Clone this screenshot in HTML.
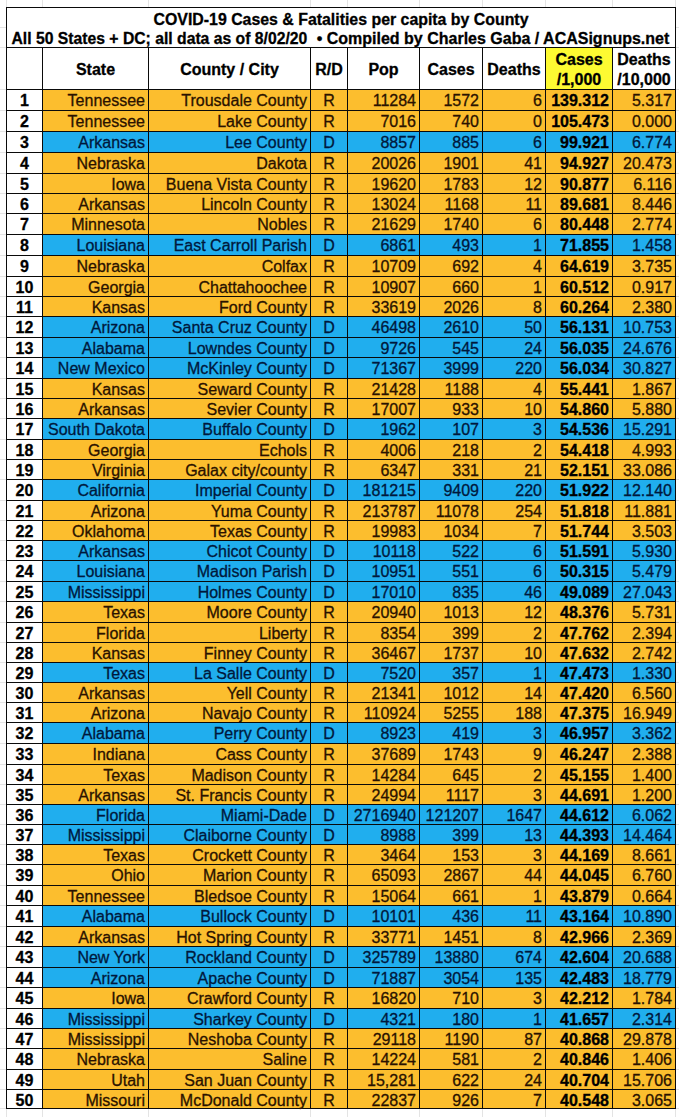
<!DOCTYPE html>
<html><head><meta charset="utf-8"><title>COVID-19 Cases &amp; Fatalities per capita by County</title>
<style>
html,body{margin:0;padding:0;background:#fff;}
body{width:679px;height:1117px;position:relative;overflow:hidden;font-family:"Liberation Sans",sans-serif;}
.r{position:absolute;}
.t{position:absolute;font-size:16px;-webkit-text-stroke:0.3px currentColor;white-space:nowrap;color:#111;height:20px;overflow:visible;}
.b{font-weight:bold;color:#000;}
</style></head><body>
<div class="r" style="left:6px;top:0px;width:1px;height:7px;background:#e4e4e4"></div>
<div class="r" style="left:6px;top:1109px;width:1px;height:8px;background:#e4e4e4"></div>
<div class="r" style="left:42px;top:0px;width:1px;height:7px;background:#e4e4e4"></div>
<div class="r" style="left:42px;top:1109px;width:1px;height:8px;background:#e4e4e4"></div>
<div class="r" style="left:148px;top:0px;width:1px;height:7px;background:#e4e4e4"></div>
<div class="r" style="left:148px;top:1109px;width:1px;height:8px;background:#e4e4e4"></div>
<div class="r" style="left:310px;top:0px;width:1px;height:7px;background:#e4e4e4"></div>
<div class="r" style="left:310px;top:1109px;width:1px;height:8px;background:#e4e4e4"></div>
<div class="r" style="left:347px;top:0px;width:1px;height:7px;background:#e4e4e4"></div>
<div class="r" style="left:347px;top:1109px;width:1px;height:8px;background:#e4e4e4"></div>
<div class="r" style="left:419px;top:0px;width:1px;height:7px;background:#e4e4e4"></div>
<div class="r" style="left:419px;top:1109px;width:1px;height:8px;background:#e4e4e4"></div>
<div class="r" style="left:482px;top:0px;width:1px;height:7px;background:#e4e4e4"></div>
<div class="r" style="left:482px;top:1109px;width:1px;height:8px;background:#e4e4e4"></div>
<div class="r" style="left:545px;top:0px;width:1px;height:7px;background:#e4e4e4"></div>
<div class="r" style="left:545px;top:1109px;width:1px;height:8px;background:#e4e4e4"></div>
<div class="r" style="left:612px;top:0px;width:1px;height:7px;background:#e4e4e4"></div>
<div class="r" style="left:612px;top:1109px;width:1px;height:8px;background:#e4e4e4"></div>
<div class="r" style="left:675px;top:0px;width:1px;height:7px;background:#e4e4e4"></div>
<div class="r" style="left:675px;top:1109px;width:1px;height:8px;background:#e4e4e4"></div>
<div class="r" style="left:0px;top:27px;width:6px;height:1px;background:#e4e4e4"></div>
<div class="r" style="left:676px;top:27px;width:3px;height:1px;background:#e4e4e4"></div>
<div class="r" style="left:0px;top:47px;width:6px;height:1px;background:#e4e4e4"></div>
<div class="r" style="left:676px;top:47px;width:3px;height:1px;background:#e4e4e4"></div>
<div class="r" style="left:0px;top:89px;width:6px;height:1px;background:#e4e4e4"></div>
<div class="r" style="left:676px;top:89px;width:3px;height:1px;background:#e4e4e4"></div>
<div class="r" style="left:0px;top:110px;width:6px;height:1px;background:#e4e4e4"></div>
<div class="r" style="left:676px;top:110px;width:3px;height:1px;background:#e4e4e4"></div>
<div class="r" style="left:0px;top:131px;width:6px;height:1px;background:#e4e4e4"></div>
<div class="r" style="left:676px;top:131px;width:3px;height:1px;background:#e4e4e4"></div>
<div class="r" style="left:0px;top:152px;width:6px;height:1px;background:#e4e4e4"></div>
<div class="r" style="left:676px;top:152px;width:3px;height:1px;background:#e4e4e4"></div>
<div class="r" style="left:0px;top:173px;width:6px;height:1px;background:#e4e4e4"></div>
<div class="r" style="left:676px;top:173px;width:3px;height:1px;background:#e4e4e4"></div>
<div class="r" style="left:0px;top:193px;width:6px;height:1px;background:#e4e4e4"></div>
<div class="r" style="left:676px;top:193px;width:3px;height:1px;background:#e4e4e4"></div>
<div class="r" style="left:0px;top:213px;width:6px;height:1px;background:#e4e4e4"></div>
<div class="r" style="left:676px;top:213px;width:3px;height:1px;background:#e4e4e4"></div>
<div class="r" style="left:0px;top:234px;width:6px;height:1px;background:#e4e4e4"></div>
<div class="r" style="left:676px;top:234px;width:3px;height:1px;background:#e4e4e4"></div>
<div class="r" style="left:0px;top:255px;width:6px;height:1px;background:#e4e4e4"></div>
<div class="r" style="left:676px;top:255px;width:3px;height:1px;background:#e4e4e4"></div>
<div class="r" style="left:0px;top:276px;width:6px;height:1px;background:#e4e4e4"></div>
<div class="r" style="left:676px;top:276px;width:3px;height:1px;background:#e4e4e4"></div>
<div class="r" style="left:0px;top:296px;width:6px;height:1px;background:#e4e4e4"></div>
<div class="r" style="left:676px;top:296px;width:3px;height:1px;background:#e4e4e4"></div>
<div class="r" style="left:0px;top:316px;width:6px;height:1px;background:#e4e4e4"></div>
<div class="r" style="left:676px;top:316px;width:3px;height:1px;background:#e4e4e4"></div>
<div class="r" style="left:0px;top:337px;width:6px;height:1px;background:#e4e4e4"></div>
<div class="r" style="left:676px;top:337px;width:3px;height:1px;background:#e4e4e4"></div>
<div class="r" style="left:0px;top:357px;width:6px;height:1px;background:#e4e4e4"></div>
<div class="r" style="left:676px;top:357px;width:3px;height:1px;background:#e4e4e4"></div>
<div class="r" style="left:0px;top:378px;width:6px;height:1px;background:#e4e4e4"></div>
<div class="r" style="left:676px;top:378px;width:3px;height:1px;background:#e4e4e4"></div>
<div class="r" style="left:0px;top:398px;width:6px;height:1px;background:#e4e4e4"></div>
<div class="r" style="left:676px;top:398px;width:3px;height:1px;background:#e4e4e4"></div>
<div class="r" style="left:0px;top:418px;width:6px;height:1px;background:#e4e4e4"></div>
<div class="r" style="left:676px;top:418px;width:3px;height:1px;background:#e4e4e4"></div>
<div class="r" style="left:0px;top:439px;width:6px;height:1px;background:#e4e4e4"></div>
<div class="r" style="left:676px;top:439px;width:3px;height:1px;background:#e4e4e4"></div>
<div class="r" style="left:0px;top:459px;width:6px;height:1px;background:#e4e4e4"></div>
<div class="r" style="left:676px;top:459px;width:3px;height:1px;background:#e4e4e4"></div>
<div class="r" style="left:0px;top:479px;width:6px;height:1px;background:#e4e4e4"></div>
<div class="r" style="left:676px;top:479px;width:3px;height:1px;background:#e4e4e4"></div>
<div class="r" style="left:0px;top:500px;width:6px;height:1px;background:#e4e4e4"></div>
<div class="r" style="left:676px;top:500px;width:3px;height:1px;background:#e4e4e4"></div>
<div class="r" style="left:0px;top:520px;width:6px;height:1px;background:#e4e4e4"></div>
<div class="r" style="left:676px;top:520px;width:3px;height:1px;background:#e4e4e4"></div>
<div class="r" style="left:0px;top:540px;width:6px;height:1px;background:#e4e4e4"></div>
<div class="r" style="left:676px;top:540px;width:3px;height:1px;background:#e4e4e4"></div>
<div class="r" style="left:0px;top:560px;width:6px;height:1px;background:#e4e4e4"></div>
<div class="r" style="left:676px;top:560px;width:3px;height:1px;background:#e4e4e4"></div>
<div class="r" style="left:0px;top:581px;width:6px;height:1px;background:#e4e4e4"></div>
<div class="r" style="left:676px;top:581px;width:3px;height:1px;background:#e4e4e4"></div>
<div class="r" style="left:0px;top:601px;width:6px;height:1px;background:#e4e4e4"></div>
<div class="r" style="left:676px;top:601px;width:3px;height:1px;background:#e4e4e4"></div>
<div class="r" style="left:0px;top:622px;width:6px;height:1px;background:#e4e4e4"></div>
<div class="r" style="left:676px;top:622px;width:3px;height:1px;background:#e4e4e4"></div>
<div class="r" style="left:0px;top:642px;width:6px;height:1px;background:#e4e4e4"></div>
<div class="r" style="left:676px;top:642px;width:3px;height:1px;background:#e4e4e4"></div>
<div class="r" style="left:0px;top:662px;width:6px;height:1px;background:#e4e4e4"></div>
<div class="r" style="left:676px;top:662px;width:3px;height:1px;background:#e4e4e4"></div>
<div class="r" style="left:0px;top:682px;width:6px;height:1px;background:#e4e4e4"></div>
<div class="r" style="left:676px;top:682px;width:3px;height:1px;background:#e4e4e4"></div>
<div class="r" style="left:0px;top:702px;width:6px;height:1px;background:#e4e4e4"></div>
<div class="r" style="left:676px;top:702px;width:3px;height:1px;background:#e4e4e4"></div>
<div class="r" style="left:0px;top:722px;width:6px;height:1px;background:#e4e4e4"></div>
<div class="r" style="left:676px;top:722px;width:3px;height:1px;background:#e4e4e4"></div>
<div class="r" style="left:0px;top:743px;width:6px;height:1px;background:#e4e4e4"></div>
<div class="r" style="left:676px;top:743px;width:3px;height:1px;background:#e4e4e4"></div>
<div class="r" style="left:0px;top:764px;width:6px;height:1px;background:#e4e4e4"></div>
<div class="r" style="left:676px;top:764px;width:3px;height:1px;background:#e4e4e4"></div>
<div class="r" style="left:0px;top:784px;width:6px;height:1px;background:#e4e4e4"></div>
<div class="r" style="left:676px;top:784px;width:3px;height:1px;background:#e4e4e4"></div>
<div class="r" style="left:0px;top:804px;width:6px;height:1px;background:#e4e4e4"></div>
<div class="r" style="left:676px;top:804px;width:3px;height:1px;background:#e4e4e4"></div>
<div class="r" style="left:0px;top:824px;width:6px;height:1px;background:#e4e4e4"></div>
<div class="r" style="left:676px;top:824px;width:3px;height:1px;background:#e4e4e4"></div>
<div class="r" style="left:0px;top:844px;width:6px;height:1px;background:#e4e4e4"></div>
<div class="r" style="left:676px;top:844px;width:3px;height:1px;background:#e4e4e4"></div>
<div class="r" style="left:0px;top:864px;width:6px;height:1px;background:#e4e4e4"></div>
<div class="r" style="left:676px;top:864px;width:3px;height:1px;background:#e4e4e4"></div>
<div class="r" style="left:0px;top:885px;width:6px;height:1px;background:#e4e4e4"></div>
<div class="r" style="left:676px;top:885px;width:3px;height:1px;background:#e4e4e4"></div>
<div class="r" style="left:0px;top:905px;width:6px;height:1px;background:#e4e4e4"></div>
<div class="r" style="left:676px;top:905px;width:3px;height:1px;background:#e4e4e4"></div>
<div class="r" style="left:0px;top:926px;width:6px;height:1px;background:#e4e4e4"></div>
<div class="r" style="left:676px;top:926px;width:3px;height:1px;background:#e4e4e4"></div>
<div class="r" style="left:0px;top:946px;width:6px;height:1px;background:#e4e4e4"></div>
<div class="r" style="left:676px;top:946px;width:3px;height:1px;background:#e4e4e4"></div>
<div class="r" style="left:0px;top:967px;width:6px;height:1px;background:#e4e4e4"></div>
<div class="r" style="left:676px;top:967px;width:3px;height:1px;background:#e4e4e4"></div>
<div class="r" style="left:0px;top:987px;width:6px;height:1px;background:#e4e4e4"></div>
<div class="r" style="left:676px;top:987px;width:3px;height:1px;background:#e4e4e4"></div>
<div class="r" style="left:0px;top:1008px;width:6px;height:1px;background:#e4e4e4"></div>
<div class="r" style="left:676px;top:1008px;width:3px;height:1px;background:#e4e4e4"></div>
<div class="r" style="left:0px;top:1028px;width:6px;height:1px;background:#e4e4e4"></div>
<div class="r" style="left:676px;top:1028px;width:3px;height:1px;background:#e4e4e4"></div>
<div class="r" style="left:0px;top:1048px;width:6px;height:1px;background:#e4e4e4"></div>
<div class="r" style="left:676px;top:1048px;width:3px;height:1px;background:#e4e4e4"></div>
<div class="r" style="left:0px;top:1069px;width:6px;height:1px;background:#e4e4e4"></div>
<div class="r" style="left:676px;top:1069px;width:3px;height:1px;background:#e4e4e4"></div>
<div class="r" style="left:0px;top:1089px;width:6px;height:1px;background:#e4e4e4"></div>
<div class="r" style="left:676px;top:1089px;width:3px;height:1px;background:#e4e4e4"></div>
<div class="r" style="left:0px;top:1108px;width:6px;height:1px;background:#e4e4e4"></div>
<div class="r" style="left:676px;top:1108px;width:3px;height:1px;background:#e4e4e4"></div>
<div class="r" style="left:0px;top:7px;width:679px;height:0px;background:#e4e4e4"></div>
<div class="r" style="left:546px;top:48px;width:66px;height:41px;background:#fdfa32"></div>
<div class="r" style="left:43px;top:90px;width:632px;height:20px;background:#fcbe2e"></div>
<div class="r" style="left:43px;top:111px;width:632px;height:20px;background:#fcbe2e"></div>
<div class="r" style="left:43px;top:132px;width:632px;height:20px;background:#20aeee"></div>
<div class="r" style="left:43px;top:153px;width:632px;height:20px;background:#fcbe2e"></div>
<div class="r" style="left:43px;top:174px;width:632px;height:19px;background:#fcbe2e"></div>
<div class="r" style="left:43px;top:194px;width:632px;height:19px;background:#fcbe2e"></div>
<div class="r" style="left:43px;top:214px;width:632px;height:20px;background:#fcbe2e"></div>
<div class="r" style="left:43px;top:235px;width:632px;height:20px;background:#20aeee"></div>
<div class="r" style="left:43px;top:256px;width:632px;height:20px;background:#fcbe2e"></div>
<div class="r" style="left:43px;top:277px;width:632px;height:19px;background:#fcbe2e"></div>
<div class="r" style="left:43px;top:297px;width:632px;height:19px;background:#fcbe2e"></div>
<div class="r" style="left:43px;top:317px;width:632px;height:20px;background:#20aeee"></div>
<div class="r" style="left:43px;top:338px;width:632px;height:19px;background:#20aeee"></div>
<div class="r" style="left:43px;top:358px;width:632px;height:20px;background:#20aeee"></div>
<div class="r" style="left:43px;top:379px;width:632px;height:19px;background:#fcbe2e"></div>
<div class="r" style="left:43px;top:399px;width:632px;height:19px;background:#fcbe2e"></div>
<div class="r" style="left:43px;top:419px;width:632px;height:20px;background:#20aeee"></div>
<div class="r" style="left:43px;top:440px;width:632px;height:19px;background:#fcbe2e"></div>
<div class="r" style="left:43px;top:460px;width:632px;height:19px;background:#fcbe2e"></div>
<div class="r" style="left:43px;top:480px;width:632px;height:20px;background:#20aeee"></div>
<div class="r" style="left:43px;top:501px;width:632px;height:19px;background:#fcbe2e"></div>
<div class="r" style="left:43px;top:521px;width:632px;height:19px;background:#fcbe2e"></div>
<div class="r" style="left:43px;top:541px;width:632px;height:19px;background:#20aeee"></div>
<div class="r" style="left:43px;top:561px;width:632px;height:20px;background:#20aeee"></div>
<div class="r" style="left:43px;top:582px;width:632px;height:19px;background:#20aeee"></div>
<div class="r" style="left:43px;top:602px;width:632px;height:20px;background:#fcbe2e"></div>
<div class="r" style="left:43px;top:623px;width:632px;height:19px;background:#fcbe2e"></div>
<div class="r" style="left:43px;top:643px;width:632px;height:19px;background:#fcbe2e"></div>
<div class="r" style="left:43px;top:663px;width:632px;height:19px;background:#20aeee"></div>
<div class="r" style="left:43px;top:683px;width:632px;height:19px;background:#fcbe2e"></div>
<div class="r" style="left:43px;top:703px;width:632px;height:19px;background:#fcbe2e"></div>
<div class="r" style="left:43px;top:723px;width:632px;height:20px;background:#20aeee"></div>
<div class="r" style="left:43px;top:744px;width:632px;height:20px;background:#fcbe2e"></div>
<div class="r" style="left:43px;top:765px;width:632px;height:19px;background:#fcbe2e"></div>
<div class="r" style="left:43px;top:785px;width:632px;height:19px;background:#fcbe2e"></div>
<div class="r" style="left:43px;top:805px;width:632px;height:19px;background:#20aeee"></div>
<div class="r" style="left:43px;top:825px;width:632px;height:19px;background:#20aeee"></div>
<div class="r" style="left:43px;top:845px;width:632px;height:19px;background:#fcbe2e"></div>
<div class="r" style="left:43px;top:865px;width:632px;height:20px;background:#fcbe2e"></div>
<div class="r" style="left:43px;top:886px;width:632px;height:19px;background:#fcbe2e"></div>
<div class="r" style="left:43px;top:906px;width:632px;height:20px;background:#20aeee"></div>
<div class="r" style="left:43px;top:927px;width:632px;height:19px;background:#fcbe2e"></div>
<div class="r" style="left:43px;top:947px;width:632px;height:20px;background:#20aeee"></div>
<div class="r" style="left:43px;top:968px;width:632px;height:19px;background:#20aeee"></div>
<div class="r" style="left:43px;top:988px;width:632px;height:20px;background:#fcbe2e"></div>
<div class="r" style="left:43px;top:1009px;width:632px;height:19px;background:#20aeee"></div>
<div class="r" style="left:43px;top:1029px;width:632px;height:19px;background:#fcbe2e"></div>
<div class="r" style="left:43px;top:1049px;width:632px;height:20px;background:#fcbe2e"></div>
<div class="r" style="left:43px;top:1070px;width:632px;height:19px;background:#fcbe2e"></div>
<div class="r" style="left:43px;top:1090px;width:632px;height:18px;background:#fcbe2e"></div>
<div class="r" style="left:6px;top:7px;width:670px;height:1px;background:#0a0a0a"></div>
<div class="r" style="left:6px;top:7px;width:1px;height:1102px;background:#0a0a0a"></div>
<div class="r" style="left:675px;top:7px;width:1px;height:1102px;background:#0a0a0a"></div>
<div class="r" style="left:6px;top:47px;width:670px;height:1px;background:#0a0a0a"></div>
<div class="r" style="left:6px;top:89px;width:670px;height:1px;background:#0a0a0a"></div>
<div class="r" style="left:6px;top:110px;width:670px;height:1px;background:#0a0a0a"></div>
<div class="r" style="left:6px;top:131px;width:670px;height:1px;background:#0a0a0a"></div>
<div class="r" style="left:6px;top:152px;width:670px;height:1px;background:#0a0a0a"></div>
<div class="r" style="left:6px;top:173px;width:670px;height:1px;background:#0a0a0a"></div>
<div class="r" style="left:6px;top:193px;width:670px;height:1px;background:#0a0a0a"></div>
<div class="r" style="left:6px;top:213px;width:670px;height:1px;background:#0a0a0a"></div>
<div class="r" style="left:6px;top:234px;width:670px;height:1px;background:#0a0a0a"></div>
<div class="r" style="left:6px;top:255px;width:670px;height:1px;background:#0a0a0a"></div>
<div class="r" style="left:6px;top:276px;width:670px;height:1px;background:#0a0a0a"></div>
<div class="r" style="left:6px;top:296px;width:670px;height:1px;background:#0a0a0a"></div>
<div class="r" style="left:6px;top:316px;width:670px;height:1px;background:#0a0a0a"></div>
<div class="r" style="left:6px;top:337px;width:670px;height:1px;background:#0a0a0a"></div>
<div class="r" style="left:6px;top:357px;width:670px;height:1px;background:#0a0a0a"></div>
<div class="r" style="left:6px;top:378px;width:670px;height:1px;background:#0a0a0a"></div>
<div class="r" style="left:6px;top:398px;width:670px;height:1px;background:#0a0a0a"></div>
<div class="r" style="left:6px;top:418px;width:670px;height:1px;background:#0a0a0a"></div>
<div class="r" style="left:6px;top:439px;width:670px;height:1px;background:#0a0a0a"></div>
<div class="r" style="left:6px;top:459px;width:670px;height:1px;background:#0a0a0a"></div>
<div class="r" style="left:6px;top:479px;width:670px;height:1px;background:#0a0a0a"></div>
<div class="r" style="left:6px;top:500px;width:670px;height:1px;background:#0a0a0a"></div>
<div class="r" style="left:6px;top:520px;width:670px;height:1px;background:#0a0a0a"></div>
<div class="r" style="left:6px;top:540px;width:670px;height:1px;background:#0a0a0a"></div>
<div class="r" style="left:6px;top:560px;width:670px;height:1px;background:#0a0a0a"></div>
<div class="r" style="left:6px;top:581px;width:670px;height:1px;background:#0a0a0a"></div>
<div class="r" style="left:6px;top:601px;width:670px;height:1px;background:#0a0a0a"></div>
<div class="r" style="left:6px;top:622px;width:670px;height:1px;background:#0a0a0a"></div>
<div class="r" style="left:6px;top:642px;width:670px;height:1px;background:#0a0a0a"></div>
<div class="r" style="left:6px;top:662px;width:670px;height:1px;background:#0a0a0a"></div>
<div class="r" style="left:6px;top:682px;width:670px;height:1px;background:#0a0a0a"></div>
<div class="r" style="left:6px;top:702px;width:670px;height:1px;background:#0a0a0a"></div>
<div class="r" style="left:6px;top:722px;width:670px;height:1px;background:#0a0a0a"></div>
<div class="r" style="left:6px;top:743px;width:670px;height:1px;background:#0a0a0a"></div>
<div class="r" style="left:6px;top:764px;width:670px;height:1px;background:#0a0a0a"></div>
<div class="r" style="left:6px;top:784px;width:670px;height:1px;background:#0a0a0a"></div>
<div class="r" style="left:6px;top:804px;width:670px;height:1px;background:#0a0a0a"></div>
<div class="r" style="left:6px;top:824px;width:670px;height:1px;background:#0a0a0a"></div>
<div class="r" style="left:6px;top:844px;width:670px;height:1px;background:#0a0a0a"></div>
<div class="r" style="left:6px;top:864px;width:670px;height:1px;background:#0a0a0a"></div>
<div class="r" style="left:6px;top:885px;width:670px;height:1px;background:#0a0a0a"></div>
<div class="r" style="left:6px;top:905px;width:670px;height:1px;background:#0a0a0a"></div>
<div class="r" style="left:6px;top:926px;width:670px;height:1px;background:#0a0a0a"></div>
<div class="r" style="left:6px;top:946px;width:670px;height:1px;background:#0a0a0a"></div>
<div class="r" style="left:6px;top:967px;width:670px;height:1px;background:#0a0a0a"></div>
<div class="r" style="left:6px;top:987px;width:670px;height:1px;background:#0a0a0a"></div>
<div class="r" style="left:6px;top:1008px;width:670px;height:1px;background:#0a0a0a"></div>
<div class="r" style="left:6px;top:1028px;width:670px;height:1px;background:#0a0a0a"></div>
<div class="r" style="left:6px;top:1048px;width:670px;height:1px;background:#0a0a0a"></div>
<div class="r" style="left:6px;top:1069px;width:670px;height:1px;background:#0a0a0a"></div>
<div class="r" style="left:6px;top:1089px;width:670px;height:1px;background:#0a0a0a"></div>
<div class="r" style="left:6px;top:1108px;width:670px;height:1px;background:#0a0a0a"></div>
<div class="r" style="left:42px;top:47px;width:1px;height:1062px;background:#0a0a0a"></div>
<div class="r" style="left:148px;top:47px;width:1px;height:1062px;background:#0a0a0a"></div>
<div class="r" style="left:310px;top:47px;width:1px;height:1062px;background:#0a0a0a"></div>
<div class="r" style="left:347px;top:47px;width:1px;height:1062px;background:#0a0a0a"></div>
<div class="r" style="left:419px;top:47px;width:1px;height:1062px;background:#0a0a0a"></div>
<div class="r" style="left:482px;top:47px;width:1px;height:1062px;background:#0a0a0a"></div>
<div class="r" style="left:545px;top:47px;width:1px;height:1062px;background:#0a0a0a"></div>
<div class="r" style="left:612px;top:47px;width:1px;height:1062px;background:#0a0a0a"></div>
<div class="t b" style="left:7px;top:10px;width:668px;line-height:20px;text-align:center;font-size:15.88px">COVID-19 Cases &amp; Fatalities per capita by County</div>
<div class="t b" style="left:11.5px;top:29px;line-height:20px;font-size:15.72px">All 50 States + DC; all data as of 8/02/20</div>
<div class="t b" style="left:316.7px;top:29px;line-height:20px;font-size:16px">• Compiled by Charles Gaba / ACASignups.net</div>
<div class="t b" style="left:43px;top:60px;width:105px;line-height:20px;text-align:center">State</div>
<div class="t b" style="left:149px;top:60px;width:161px;line-height:20px;text-align:center">County / City</div>
<div class="t b" style="left:311px;top:60px;width:36px;line-height:20px;text-align:center">R/D</div>
<div class="t b" style="left:348px;top:60px;width:71px;line-height:20px;text-align:center">Pop</div>
<div class="t b" style="left:420px;top:60px;width:62px;line-height:20px;text-align:center">Cases</div>
<div class="t b" style="left:483px;top:60px;width:62px;line-height:20px;text-align:center">Deaths</div>
<div class="t b" style="left:546px;top:50px;width:66px;line-height:20px;text-align:center">Cases</div>
<div class="t b" style="left:546px;top:70px;width:66px;line-height:20px;text-align:center">/1,000</div>
<div class="t b" style="left:613px;top:50px;width:62px;line-height:20px;text-align:center">Deaths</div>
<div class="t b" style="left:613px;top:70px;width:62px;line-height:20px;text-align:center">/10,000</div>
<div class="t b" style="left:7px;top:91px;width:35px;line-height:20px;text-align:center">1</div>
<div class="t" style="left:43px;top:91px;width:102px;line-height:20px;text-align:right;color:#2a1200">Tennessee</div>
<div class="t" style="left:149px;top:91px;width:158px;line-height:20px;text-align:right;color:#2a1200">Trousdale County</div>
<div class="t" style="left:311px;top:91px;width:36px;line-height:20px;text-align:center;color:#2a1200">R</div>
<div class="t" style="left:348px;top:91px;width:68px;line-height:20px;text-align:right;color:#2a1200">11284</div>
<div class="t" style="left:420px;top:91px;width:59px;line-height:20px;text-align:right;color:#2a1200">1572</div>
<div class="t" style="left:483px;top:91px;width:59px;line-height:20px;text-align:right;color:#2a1200">6</div>
<div class="t b" style="left:546px;top:91px;width:63px;line-height:20px;text-align:right;color:#000">139.312</div>
<div class="t" style="left:613px;top:91px;width:59px;line-height:20px;text-align:right;color:#2a1200">5.317</div>
<div class="t b" style="left:7px;top:112px;width:35px;line-height:20px;text-align:center">2</div>
<div class="t" style="left:43px;top:112px;width:102px;line-height:20px;text-align:right;color:#2a1200">Tennessee</div>
<div class="t" style="left:149px;top:112px;width:158px;line-height:20px;text-align:right;color:#2a1200">Lake County</div>
<div class="t" style="left:311px;top:112px;width:36px;line-height:20px;text-align:center;color:#2a1200">R</div>
<div class="t" style="left:348px;top:112px;width:68px;line-height:20px;text-align:right;color:#2a1200">7016</div>
<div class="t" style="left:420px;top:112px;width:59px;line-height:20px;text-align:right;color:#2a1200">740</div>
<div class="t" style="left:483px;top:112px;width:59px;line-height:20px;text-align:right;color:#2a1200">0</div>
<div class="t b" style="left:546px;top:112px;width:63px;line-height:20px;text-align:right;color:#000">105.473</div>
<div class="t" style="left:613px;top:112px;width:59px;line-height:20px;text-align:right;color:#2a1200">0.000</div>
<div class="t b" style="left:7px;top:133px;width:35px;line-height:20px;text-align:center">3</div>
<div class="t" style="left:43px;top:133px;width:102px;line-height:20px;text-align:right;color:#00183c">Arkansas</div>
<div class="t" style="left:149px;top:133px;width:158px;line-height:20px;text-align:right;color:#00183c">Lee County</div>
<div class="t" style="left:311px;top:133px;width:36px;line-height:20px;text-align:center;color:#00183c">D</div>
<div class="t" style="left:348px;top:133px;width:68px;line-height:20px;text-align:right;color:#00183c">8857</div>
<div class="t" style="left:420px;top:133px;width:59px;line-height:20px;text-align:right;color:#00183c">885</div>
<div class="t" style="left:483px;top:133px;width:59px;line-height:20px;text-align:right;color:#00183c">6</div>
<div class="t b" style="left:546px;top:133px;width:63px;line-height:20px;text-align:right;color:#000">99.921</div>
<div class="t" style="left:613px;top:133px;width:59px;line-height:20px;text-align:right;color:#00183c">6.774</div>
<div class="t b" style="left:7px;top:154px;width:35px;line-height:20px;text-align:center">4</div>
<div class="t" style="left:43px;top:154px;width:102px;line-height:20px;text-align:right;color:#2a1200">Nebraska</div>
<div class="t" style="left:149px;top:154px;width:158px;line-height:20px;text-align:right;color:#2a1200">Dakota</div>
<div class="t" style="left:311px;top:154px;width:36px;line-height:20px;text-align:center;color:#2a1200">R</div>
<div class="t" style="left:348px;top:154px;width:68px;line-height:20px;text-align:right;color:#2a1200">20026</div>
<div class="t" style="left:420px;top:154px;width:59px;line-height:20px;text-align:right;color:#2a1200">1901</div>
<div class="t" style="left:483px;top:154px;width:59px;line-height:20px;text-align:right;color:#2a1200">41</div>
<div class="t b" style="left:546px;top:154px;width:63px;line-height:20px;text-align:right;color:#000">94.927</div>
<div class="t" style="left:613px;top:154px;width:59px;line-height:20px;text-align:right;color:#2a1200">20.473</div>
<div class="t b" style="left:7px;top:175px;width:35px;line-height:20px;text-align:center">5</div>
<div class="t" style="left:43px;top:175px;width:102px;line-height:20px;text-align:right;color:#2a1200">Iowa</div>
<div class="t" style="left:149px;top:175px;width:158px;line-height:20px;text-align:right;color:#2a1200">Buena Vista County</div>
<div class="t" style="left:311px;top:175px;width:36px;line-height:20px;text-align:center;color:#2a1200">R</div>
<div class="t" style="left:348px;top:175px;width:68px;line-height:20px;text-align:right;color:#2a1200">19620</div>
<div class="t" style="left:420px;top:175px;width:59px;line-height:20px;text-align:right;color:#2a1200">1783</div>
<div class="t" style="left:483px;top:175px;width:59px;line-height:20px;text-align:right;color:#2a1200">12</div>
<div class="t b" style="left:546px;top:175px;width:63px;line-height:20px;text-align:right;color:#000">90.877</div>
<div class="t" style="left:613px;top:175px;width:59px;line-height:20px;text-align:right;color:#2a1200">6.116</div>
<div class="t b" style="left:7px;top:195px;width:35px;line-height:20px;text-align:center">6</div>
<div class="t" style="left:43px;top:195px;width:102px;line-height:20px;text-align:right;color:#2a1200">Arkansas</div>
<div class="t" style="left:149px;top:195px;width:158px;line-height:20px;text-align:right;color:#2a1200">Lincoln County</div>
<div class="t" style="left:311px;top:195px;width:36px;line-height:20px;text-align:center;color:#2a1200">R</div>
<div class="t" style="left:348px;top:195px;width:68px;line-height:20px;text-align:right;color:#2a1200">13024</div>
<div class="t" style="left:420px;top:195px;width:59px;line-height:20px;text-align:right;color:#2a1200">1168</div>
<div class="t" style="left:483px;top:195px;width:59px;line-height:20px;text-align:right;color:#2a1200">11</div>
<div class="t b" style="left:546px;top:195px;width:63px;line-height:20px;text-align:right;color:#000">89.681</div>
<div class="t" style="left:613px;top:195px;width:59px;line-height:20px;text-align:right;color:#2a1200">8.446</div>
<div class="t b" style="left:7px;top:215px;width:35px;line-height:20px;text-align:center">7</div>
<div class="t" style="left:43px;top:215px;width:102px;line-height:20px;text-align:right;color:#2a1200">Minnesota</div>
<div class="t" style="left:149px;top:215px;width:158px;line-height:20px;text-align:right;color:#2a1200">Nobles</div>
<div class="t" style="left:311px;top:215px;width:36px;line-height:20px;text-align:center;color:#2a1200">R</div>
<div class="t" style="left:348px;top:215px;width:68px;line-height:20px;text-align:right;color:#2a1200">21629</div>
<div class="t" style="left:420px;top:215px;width:59px;line-height:20px;text-align:right;color:#2a1200">1740</div>
<div class="t" style="left:483px;top:215px;width:59px;line-height:20px;text-align:right;color:#2a1200">6</div>
<div class="t b" style="left:546px;top:215px;width:63px;line-height:20px;text-align:right;color:#000">80.448</div>
<div class="t" style="left:613px;top:215px;width:59px;line-height:20px;text-align:right;color:#2a1200">2.774</div>
<div class="t b" style="left:7px;top:236px;width:35px;line-height:20px;text-align:center">8</div>
<div class="t" style="left:43px;top:236px;width:102px;line-height:20px;text-align:right;color:#00183c">Louisiana</div>
<div class="t" style="left:149px;top:236px;width:158px;line-height:20px;text-align:right;color:#00183c">East Carroll Parish</div>
<div class="t" style="left:311px;top:236px;width:36px;line-height:20px;text-align:center;color:#00183c">D</div>
<div class="t" style="left:348px;top:236px;width:68px;line-height:20px;text-align:right;color:#00183c">6861</div>
<div class="t" style="left:420px;top:236px;width:59px;line-height:20px;text-align:right;color:#00183c">493</div>
<div class="t" style="left:483px;top:236px;width:59px;line-height:20px;text-align:right;color:#00183c">1</div>
<div class="t b" style="left:546px;top:236px;width:63px;line-height:20px;text-align:right;color:#000">71.855</div>
<div class="t" style="left:613px;top:236px;width:59px;line-height:20px;text-align:right;color:#00183c">1.458</div>
<div class="t b" style="left:7px;top:257px;width:35px;line-height:20px;text-align:center">9</div>
<div class="t" style="left:43px;top:257px;width:102px;line-height:20px;text-align:right;color:#2a1200">Nebraska</div>
<div class="t" style="left:149px;top:257px;width:158px;line-height:20px;text-align:right;color:#2a1200">Colfax</div>
<div class="t" style="left:311px;top:257px;width:36px;line-height:20px;text-align:center;color:#2a1200">R</div>
<div class="t" style="left:348px;top:257px;width:68px;line-height:20px;text-align:right;color:#2a1200">10709</div>
<div class="t" style="left:420px;top:257px;width:59px;line-height:20px;text-align:right;color:#2a1200">692</div>
<div class="t" style="left:483px;top:257px;width:59px;line-height:20px;text-align:right;color:#2a1200">4</div>
<div class="t b" style="left:546px;top:257px;width:63px;line-height:20px;text-align:right;color:#000">64.619</div>
<div class="t" style="left:613px;top:257px;width:59px;line-height:20px;text-align:right;color:#2a1200">3.735</div>
<div class="t b" style="left:7px;top:278px;width:35px;line-height:20px;text-align:center">10</div>
<div class="t" style="left:43px;top:278px;width:102px;line-height:20px;text-align:right;color:#2a1200">Georgia</div>
<div class="t" style="left:149px;top:278px;width:158px;line-height:20px;text-align:right;color:#2a1200">Chattahoochee</div>
<div class="t" style="left:311px;top:278px;width:36px;line-height:20px;text-align:center;color:#2a1200">R</div>
<div class="t" style="left:348px;top:278px;width:68px;line-height:20px;text-align:right;color:#2a1200">10907</div>
<div class="t" style="left:420px;top:278px;width:59px;line-height:20px;text-align:right;color:#2a1200">660</div>
<div class="t" style="left:483px;top:278px;width:59px;line-height:20px;text-align:right;color:#2a1200">1</div>
<div class="t b" style="left:546px;top:278px;width:63px;line-height:20px;text-align:right;color:#000">60.512</div>
<div class="t" style="left:613px;top:278px;width:59px;line-height:20px;text-align:right;color:#2a1200">0.917</div>
<div class="t b" style="left:7px;top:298px;width:35px;line-height:20px;text-align:center">11</div>
<div class="t" style="left:43px;top:298px;width:102px;line-height:20px;text-align:right;color:#2a1200">Kansas</div>
<div class="t" style="left:149px;top:298px;width:158px;line-height:20px;text-align:right;color:#2a1200">Ford County</div>
<div class="t" style="left:311px;top:298px;width:36px;line-height:20px;text-align:center;color:#2a1200">R</div>
<div class="t" style="left:348px;top:298px;width:68px;line-height:20px;text-align:right;color:#2a1200">33619</div>
<div class="t" style="left:420px;top:298px;width:59px;line-height:20px;text-align:right;color:#2a1200">2026</div>
<div class="t" style="left:483px;top:298px;width:59px;line-height:20px;text-align:right;color:#2a1200">8</div>
<div class="t b" style="left:546px;top:298px;width:63px;line-height:20px;text-align:right;color:#000">60.264</div>
<div class="t" style="left:613px;top:298px;width:59px;line-height:20px;text-align:right;color:#2a1200">2.380</div>
<div class="t b" style="left:7px;top:318px;width:35px;line-height:20px;text-align:center">12</div>
<div class="t" style="left:43px;top:318px;width:102px;line-height:20px;text-align:right;color:#00183c">Arizona</div>
<div class="t" style="left:149px;top:318px;width:158px;line-height:20px;text-align:right;color:#00183c">Santa Cruz County</div>
<div class="t" style="left:311px;top:318px;width:36px;line-height:20px;text-align:center;color:#00183c">D</div>
<div class="t" style="left:348px;top:318px;width:68px;line-height:20px;text-align:right;color:#00183c">46498</div>
<div class="t" style="left:420px;top:318px;width:59px;line-height:20px;text-align:right;color:#00183c">2610</div>
<div class="t" style="left:483px;top:318px;width:59px;line-height:20px;text-align:right;color:#00183c">50</div>
<div class="t b" style="left:546px;top:318px;width:63px;line-height:20px;text-align:right;color:#000">56.131</div>
<div class="t" style="left:613px;top:318px;width:59px;line-height:20px;text-align:right;color:#00183c">10.753</div>
<div class="t b" style="left:7px;top:339px;width:35px;line-height:20px;text-align:center">13</div>
<div class="t" style="left:43px;top:339px;width:102px;line-height:20px;text-align:right;color:#00183c">Alabama</div>
<div class="t" style="left:149px;top:339px;width:158px;line-height:20px;text-align:right;color:#00183c">Lowndes County</div>
<div class="t" style="left:311px;top:339px;width:36px;line-height:20px;text-align:center;color:#00183c">D</div>
<div class="t" style="left:348px;top:339px;width:68px;line-height:20px;text-align:right;color:#00183c">9726</div>
<div class="t" style="left:420px;top:339px;width:59px;line-height:20px;text-align:right;color:#00183c">545</div>
<div class="t" style="left:483px;top:339px;width:59px;line-height:20px;text-align:right;color:#00183c">24</div>
<div class="t b" style="left:546px;top:339px;width:63px;line-height:20px;text-align:right;color:#000">56.035</div>
<div class="t" style="left:613px;top:339px;width:59px;line-height:20px;text-align:right;color:#00183c">24.676</div>
<div class="t b" style="left:7px;top:359px;width:35px;line-height:20px;text-align:center">14</div>
<div class="t" style="left:43px;top:359px;width:102px;line-height:20px;text-align:right;color:#00183c">New Mexico</div>
<div class="t" style="left:149px;top:359px;width:158px;line-height:20px;text-align:right;color:#00183c">McKinley County</div>
<div class="t" style="left:311px;top:359px;width:36px;line-height:20px;text-align:center;color:#00183c">D</div>
<div class="t" style="left:348px;top:359px;width:68px;line-height:20px;text-align:right;color:#00183c">71367</div>
<div class="t" style="left:420px;top:359px;width:59px;line-height:20px;text-align:right;color:#00183c">3999</div>
<div class="t" style="left:483px;top:359px;width:59px;line-height:20px;text-align:right;color:#00183c">220</div>
<div class="t b" style="left:546px;top:359px;width:63px;line-height:20px;text-align:right;color:#000">56.034</div>
<div class="t" style="left:613px;top:359px;width:59px;line-height:20px;text-align:right;color:#00183c">30.827</div>
<div class="t b" style="left:7px;top:380px;width:35px;line-height:20px;text-align:center">15</div>
<div class="t" style="left:43px;top:380px;width:102px;line-height:20px;text-align:right;color:#2a1200">Kansas</div>
<div class="t" style="left:149px;top:380px;width:158px;line-height:20px;text-align:right;color:#2a1200">Seward County</div>
<div class="t" style="left:311px;top:380px;width:36px;line-height:20px;text-align:center;color:#2a1200">R</div>
<div class="t" style="left:348px;top:380px;width:68px;line-height:20px;text-align:right;color:#2a1200">21428</div>
<div class="t" style="left:420px;top:380px;width:59px;line-height:20px;text-align:right;color:#2a1200">1188</div>
<div class="t" style="left:483px;top:380px;width:59px;line-height:20px;text-align:right;color:#2a1200">4</div>
<div class="t b" style="left:546px;top:380px;width:63px;line-height:20px;text-align:right;color:#000">55.441</div>
<div class="t" style="left:613px;top:380px;width:59px;line-height:20px;text-align:right;color:#2a1200">1.867</div>
<div class="t b" style="left:7px;top:400px;width:35px;line-height:20px;text-align:center">16</div>
<div class="t" style="left:43px;top:400px;width:102px;line-height:20px;text-align:right;color:#2a1200">Arkansas</div>
<div class="t" style="left:149px;top:400px;width:158px;line-height:20px;text-align:right;color:#2a1200">Sevier County</div>
<div class="t" style="left:311px;top:400px;width:36px;line-height:20px;text-align:center;color:#2a1200">R</div>
<div class="t" style="left:348px;top:400px;width:68px;line-height:20px;text-align:right;color:#2a1200">17007</div>
<div class="t" style="left:420px;top:400px;width:59px;line-height:20px;text-align:right;color:#2a1200">933</div>
<div class="t" style="left:483px;top:400px;width:59px;line-height:20px;text-align:right;color:#2a1200">10</div>
<div class="t b" style="left:546px;top:400px;width:63px;line-height:20px;text-align:right;color:#000">54.860</div>
<div class="t" style="left:613px;top:400px;width:59px;line-height:20px;text-align:right;color:#2a1200">5.880</div>
<div class="t b" style="left:7px;top:420px;width:35px;line-height:20px;text-align:center">17</div>
<div class="t" style="left:43px;top:420px;width:102px;line-height:20px;text-align:right;color:#00183c">South Dakota</div>
<div class="t" style="left:149px;top:420px;width:158px;line-height:20px;text-align:right;color:#00183c">Buffalo County</div>
<div class="t" style="left:311px;top:420px;width:36px;line-height:20px;text-align:center;color:#00183c">D</div>
<div class="t" style="left:348px;top:420px;width:68px;line-height:20px;text-align:right;color:#00183c">1962</div>
<div class="t" style="left:420px;top:420px;width:59px;line-height:20px;text-align:right;color:#00183c">107</div>
<div class="t" style="left:483px;top:420px;width:59px;line-height:20px;text-align:right;color:#00183c">3</div>
<div class="t b" style="left:546px;top:420px;width:63px;line-height:20px;text-align:right;color:#000">54.536</div>
<div class="t" style="left:613px;top:420px;width:59px;line-height:20px;text-align:right;color:#00183c">15.291</div>
<div class="t b" style="left:7px;top:441px;width:35px;line-height:20px;text-align:center">18</div>
<div class="t" style="left:43px;top:441px;width:102px;line-height:20px;text-align:right;color:#2a1200">Georgia</div>
<div class="t" style="left:149px;top:441px;width:158px;line-height:20px;text-align:right;color:#2a1200">Echols</div>
<div class="t" style="left:311px;top:441px;width:36px;line-height:20px;text-align:center;color:#2a1200">R</div>
<div class="t" style="left:348px;top:441px;width:68px;line-height:20px;text-align:right;color:#2a1200">4006</div>
<div class="t" style="left:420px;top:441px;width:59px;line-height:20px;text-align:right;color:#2a1200">218</div>
<div class="t" style="left:483px;top:441px;width:59px;line-height:20px;text-align:right;color:#2a1200">2</div>
<div class="t b" style="left:546px;top:441px;width:63px;line-height:20px;text-align:right;color:#000">54.418</div>
<div class="t" style="left:613px;top:441px;width:59px;line-height:20px;text-align:right;color:#2a1200">4.993</div>
<div class="t b" style="left:7px;top:461px;width:35px;line-height:20px;text-align:center">19</div>
<div class="t" style="left:43px;top:461px;width:102px;line-height:20px;text-align:right;color:#2a1200">Virginia</div>
<div class="t" style="left:149px;top:461px;width:158px;line-height:20px;text-align:right;color:#2a1200">Galax city/county</div>
<div class="t" style="left:311px;top:461px;width:36px;line-height:20px;text-align:center;color:#2a1200">R</div>
<div class="t" style="left:348px;top:461px;width:68px;line-height:20px;text-align:right;color:#2a1200">6347</div>
<div class="t" style="left:420px;top:461px;width:59px;line-height:20px;text-align:right;color:#2a1200">331</div>
<div class="t" style="left:483px;top:461px;width:59px;line-height:20px;text-align:right;color:#2a1200">21</div>
<div class="t b" style="left:546px;top:461px;width:63px;line-height:20px;text-align:right;color:#000">52.151</div>
<div class="t" style="left:613px;top:461px;width:59px;line-height:20px;text-align:right;color:#2a1200">33.086</div>
<div class="t b" style="left:7px;top:481px;width:35px;line-height:20px;text-align:center">20</div>
<div class="t" style="left:43px;top:481px;width:102px;line-height:20px;text-align:right;color:#00183c">California</div>
<div class="t" style="left:149px;top:481px;width:158px;line-height:20px;text-align:right;color:#00183c">Imperial County</div>
<div class="t" style="left:311px;top:481px;width:36px;line-height:20px;text-align:center;color:#00183c">D</div>
<div class="t" style="left:348px;top:481px;width:68px;line-height:20px;text-align:right;color:#00183c">181215</div>
<div class="t" style="left:420px;top:481px;width:59px;line-height:20px;text-align:right;color:#00183c">9409</div>
<div class="t" style="left:483px;top:481px;width:59px;line-height:20px;text-align:right;color:#00183c">220</div>
<div class="t b" style="left:546px;top:481px;width:63px;line-height:20px;text-align:right;color:#000">51.922</div>
<div class="t" style="left:613px;top:481px;width:59px;line-height:20px;text-align:right;color:#00183c">12.140</div>
<div class="t b" style="left:7px;top:502px;width:35px;line-height:20px;text-align:center">21</div>
<div class="t" style="left:43px;top:502px;width:102px;line-height:20px;text-align:right;color:#2a1200">Arizona</div>
<div class="t" style="left:149px;top:502px;width:158px;line-height:20px;text-align:right;color:#2a1200">Yuma County</div>
<div class="t" style="left:311px;top:502px;width:36px;line-height:20px;text-align:center;color:#2a1200">R</div>
<div class="t" style="left:348px;top:502px;width:68px;line-height:20px;text-align:right;color:#2a1200">213787</div>
<div class="t" style="left:420px;top:502px;width:59px;line-height:20px;text-align:right;color:#2a1200">11078</div>
<div class="t" style="left:483px;top:502px;width:59px;line-height:20px;text-align:right;color:#2a1200">254</div>
<div class="t b" style="left:546px;top:502px;width:63px;line-height:20px;text-align:right;color:#000">51.818</div>
<div class="t" style="left:613px;top:502px;width:59px;line-height:20px;text-align:right;color:#2a1200">11.881</div>
<div class="t b" style="left:7px;top:522px;width:35px;line-height:20px;text-align:center">22</div>
<div class="t" style="left:43px;top:522px;width:102px;line-height:20px;text-align:right;color:#2a1200">Oklahoma</div>
<div class="t" style="left:149px;top:522px;width:158px;line-height:20px;text-align:right;color:#2a1200">Texas County</div>
<div class="t" style="left:311px;top:522px;width:36px;line-height:20px;text-align:center;color:#2a1200">R</div>
<div class="t" style="left:348px;top:522px;width:68px;line-height:20px;text-align:right;color:#2a1200">19983</div>
<div class="t" style="left:420px;top:522px;width:59px;line-height:20px;text-align:right;color:#2a1200">1034</div>
<div class="t" style="left:483px;top:522px;width:59px;line-height:20px;text-align:right;color:#2a1200">7</div>
<div class="t b" style="left:546px;top:522px;width:63px;line-height:20px;text-align:right;color:#000">51.744</div>
<div class="t" style="left:613px;top:522px;width:59px;line-height:20px;text-align:right;color:#2a1200">3.503</div>
<div class="t b" style="left:7px;top:542px;width:35px;line-height:20px;text-align:center">23</div>
<div class="t" style="left:43px;top:542px;width:102px;line-height:20px;text-align:right;color:#00183c">Arkansas</div>
<div class="t" style="left:149px;top:542px;width:158px;line-height:20px;text-align:right;color:#00183c">Chicot County</div>
<div class="t" style="left:311px;top:542px;width:36px;line-height:20px;text-align:center;color:#00183c">D</div>
<div class="t" style="left:348px;top:542px;width:68px;line-height:20px;text-align:right;color:#00183c">10118</div>
<div class="t" style="left:420px;top:542px;width:59px;line-height:20px;text-align:right;color:#00183c">522</div>
<div class="t" style="left:483px;top:542px;width:59px;line-height:20px;text-align:right;color:#00183c">6</div>
<div class="t b" style="left:546px;top:542px;width:63px;line-height:20px;text-align:right;color:#000">51.591</div>
<div class="t" style="left:613px;top:542px;width:59px;line-height:20px;text-align:right;color:#00183c">5.930</div>
<div class="t b" style="left:7px;top:562px;width:35px;line-height:20px;text-align:center">24</div>
<div class="t" style="left:43px;top:562px;width:102px;line-height:20px;text-align:right;color:#00183c">Louisiana</div>
<div class="t" style="left:149px;top:562px;width:158px;line-height:20px;text-align:right;color:#00183c">Madison Parish</div>
<div class="t" style="left:311px;top:562px;width:36px;line-height:20px;text-align:center;color:#00183c">D</div>
<div class="t" style="left:348px;top:562px;width:68px;line-height:20px;text-align:right;color:#00183c">10951</div>
<div class="t" style="left:420px;top:562px;width:59px;line-height:20px;text-align:right;color:#00183c">551</div>
<div class="t" style="left:483px;top:562px;width:59px;line-height:20px;text-align:right;color:#00183c">6</div>
<div class="t b" style="left:546px;top:562px;width:63px;line-height:20px;text-align:right;color:#000">50.315</div>
<div class="t" style="left:613px;top:562px;width:59px;line-height:20px;text-align:right;color:#00183c">5.479</div>
<div class="t b" style="left:7px;top:583px;width:35px;line-height:20px;text-align:center">25</div>
<div class="t" style="left:43px;top:583px;width:102px;line-height:20px;text-align:right;color:#00183c">Mississippi</div>
<div class="t" style="left:149px;top:583px;width:158px;line-height:20px;text-align:right;color:#00183c">Holmes County</div>
<div class="t" style="left:311px;top:583px;width:36px;line-height:20px;text-align:center;color:#00183c">D</div>
<div class="t" style="left:348px;top:583px;width:68px;line-height:20px;text-align:right;color:#00183c">17010</div>
<div class="t" style="left:420px;top:583px;width:59px;line-height:20px;text-align:right;color:#00183c">835</div>
<div class="t" style="left:483px;top:583px;width:59px;line-height:20px;text-align:right;color:#00183c">46</div>
<div class="t b" style="left:546px;top:583px;width:63px;line-height:20px;text-align:right;color:#000">49.089</div>
<div class="t" style="left:613px;top:583px;width:59px;line-height:20px;text-align:right;color:#00183c">27.043</div>
<div class="t b" style="left:7px;top:603px;width:35px;line-height:20px;text-align:center">26</div>
<div class="t" style="left:43px;top:603px;width:102px;line-height:20px;text-align:right;color:#2a1200">Texas</div>
<div class="t" style="left:149px;top:603px;width:158px;line-height:20px;text-align:right;color:#2a1200">Moore County</div>
<div class="t" style="left:311px;top:603px;width:36px;line-height:20px;text-align:center;color:#2a1200">R</div>
<div class="t" style="left:348px;top:603px;width:68px;line-height:20px;text-align:right;color:#2a1200">20940</div>
<div class="t" style="left:420px;top:603px;width:59px;line-height:20px;text-align:right;color:#2a1200">1013</div>
<div class="t" style="left:483px;top:603px;width:59px;line-height:20px;text-align:right;color:#2a1200">12</div>
<div class="t b" style="left:546px;top:603px;width:63px;line-height:20px;text-align:right;color:#000">48.376</div>
<div class="t" style="left:613px;top:603px;width:59px;line-height:20px;text-align:right;color:#2a1200">5.731</div>
<div class="t b" style="left:7px;top:624px;width:35px;line-height:20px;text-align:center">27</div>
<div class="t" style="left:43px;top:624px;width:102px;line-height:20px;text-align:right;color:#2a1200">Florida</div>
<div class="t" style="left:149px;top:624px;width:158px;line-height:20px;text-align:right;color:#2a1200">Liberty</div>
<div class="t" style="left:311px;top:624px;width:36px;line-height:20px;text-align:center;color:#2a1200">R</div>
<div class="t" style="left:348px;top:624px;width:68px;line-height:20px;text-align:right;color:#2a1200">8354</div>
<div class="t" style="left:420px;top:624px;width:59px;line-height:20px;text-align:right;color:#2a1200">399</div>
<div class="t" style="left:483px;top:624px;width:59px;line-height:20px;text-align:right;color:#2a1200">2</div>
<div class="t b" style="left:546px;top:624px;width:63px;line-height:20px;text-align:right;color:#000">47.762</div>
<div class="t" style="left:613px;top:624px;width:59px;line-height:20px;text-align:right;color:#2a1200">2.394</div>
<div class="t b" style="left:7px;top:644px;width:35px;line-height:20px;text-align:center">28</div>
<div class="t" style="left:43px;top:644px;width:102px;line-height:20px;text-align:right;color:#2a1200">Kansas</div>
<div class="t" style="left:149px;top:644px;width:158px;line-height:20px;text-align:right;color:#2a1200">Finney County</div>
<div class="t" style="left:311px;top:644px;width:36px;line-height:20px;text-align:center;color:#2a1200">R</div>
<div class="t" style="left:348px;top:644px;width:68px;line-height:20px;text-align:right;color:#2a1200">36467</div>
<div class="t" style="left:420px;top:644px;width:59px;line-height:20px;text-align:right;color:#2a1200">1737</div>
<div class="t" style="left:483px;top:644px;width:59px;line-height:20px;text-align:right;color:#2a1200">10</div>
<div class="t b" style="left:546px;top:644px;width:63px;line-height:20px;text-align:right;color:#000">47.632</div>
<div class="t" style="left:613px;top:644px;width:59px;line-height:20px;text-align:right;color:#2a1200">2.742</div>
<div class="t b" style="left:7px;top:664px;width:35px;line-height:20px;text-align:center">29</div>
<div class="t" style="left:43px;top:664px;width:102px;line-height:20px;text-align:right;color:#00183c">Texas</div>
<div class="t" style="left:149px;top:664px;width:158px;line-height:20px;text-align:right;color:#00183c">La Salle County</div>
<div class="t" style="left:311px;top:664px;width:36px;line-height:20px;text-align:center;color:#00183c">D</div>
<div class="t" style="left:348px;top:664px;width:68px;line-height:20px;text-align:right;color:#00183c">7520</div>
<div class="t" style="left:420px;top:664px;width:59px;line-height:20px;text-align:right;color:#00183c">357</div>
<div class="t" style="left:483px;top:664px;width:59px;line-height:20px;text-align:right;color:#00183c">1</div>
<div class="t b" style="left:546px;top:664px;width:63px;line-height:20px;text-align:right;color:#000">47.473</div>
<div class="t" style="left:613px;top:664px;width:59px;line-height:20px;text-align:right;color:#00183c">1.330</div>
<div class="t b" style="left:7px;top:684px;width:35px;line-height:20px;text-align:center">30</div>
<div class="t" style="left:43px;top:684px;width:102px;line-height:20px;text-align:right;color:#2a1200">Arkansas</div>
<div class="t" style="left:149px;top:684px;width:158px;line-height:20px;text-align:right;color:#2a1200">Yell County</div>
<div class="t" style="left:311px;top:684px;width:36px;line-height:20px;text-align:center;color:#2a1200">R</div>
<div class="t" style="left:348px;top:684px;width:68px;line-height:20px;text-align:right;color:#2a1200">21341</div>
<div class="t" style="left:420px;top:684px;width:59px;line-height:20px;text-align:right;color:#2a1200">1012</div>
<div class="t" style="left:483px;top:684px;width:59px;line-height:20px;text-align:right;color:#2a1200">14</div>
<div class="t b" style="left:546px;top:684px;width:63px;line-height:20px;text-align:right;color:#000">47.420</div>
<div class="t" style="left:613px;top:684px;width:59px;line-height:20px;text-align:right;color:#2a1200">6.560</div>
<div class="t b" style="left:7px;top:704px;width:35px;line-height:20px;text-align:center">31</div>
<div class="t" style="left:43px;top:704px;width:102px;line-height:20px;text-align:right;color:#2a1200">Arizona</div>
<div class="t" style="left:149px;top:704px;width:158px;line-height:20px;text-align:right;color:#2a1200">Navajo County</div>
<div class="t" style="left:311px;top:704px;width:36px;line-height:20px;text-align:center;color:#2a1200">R</div>
<div class="t" style="left:348px;top:704px;width:68px;line-height:20px;text-align:right;color:#2a1200">110924</div>
<div class="t" style="left:420px;top:704px;width:59px;line-height:20px;text-align:right;color:#2a1200">5255</div>
<div class="t" style="left:483px;top:704px;width:59px;line-height:20px;text-align:right;color:#2a1200">188</div>
<div class="t b" style="left:546px;top:704px;width:63px;line-height:20px;text-align:right;color:#000">47.375</div>
<div class="t" style="left:613px;top:704px;width:59px;line-height:20px;text-align:right;color:#2a1200">16.949</div>
<div class="t b" style="left:7px;top:724px;width:35px;line-height:20px;text-align:center">32</div>
<div class="t" style="left:43px;top:724px;width:102px;line-height:20px;text-align:right;color:#00183c">Alabama</div>
<div class="t" style="left:149px;top:724px;width:158px;line-height:20px;text-align:right;color:#00183c">Perry County</div>
<div class="t" style="left:311px;top:724px;width:36px;line-height:20px;text-align:center;color:#00183c">D</div>
<div class="t" style="left:348px;top:724px;width:68px;line-height:20px;text-align:right;color:#00183c">8923</div>
<div class="t" style="left:420px;top:724px;width:59px;line-height:20px;text-align:right;color:#00183c">419</div>
<div class="t" style="left:483px;top:724px;width:59px;line-height:20px;text-align:right;color:#00183c">3</div>
<div class="t b" style="left:546px;top:724px;width:63px;line-height:20px;text-align:right;color:#000">46.957</div>
<div class="t" style="left:613px;top:724px;width:59px;line-height:20px;text-align:right;color:#00183c">3.362</div>
<div class="t b" style="left:7px;top:745px;width:35px;line-height:20px;text-align:center">33</div>
<div class="t" style="left:43px;top:745px;width:102px;line-height:20px;text-align:right;color:#2a1200">Indiana</div>
<div class="t" style="left:149px;top:745px;width:158px;line-height:20px;text-align:right;color:#2a1200">Cass County</div>
<div class="t" style="left:311px;top:745px;width:36px;line-height:20px;text-align:center;color:#2a1200">R</div>
<div class="t" style="left:348px;top:745px;width:68px;line-height:20px;text-align:right;color:#2a1200">37689</div>
<div class="t" style="left:420px;top:745px;width:59px;line-height:20px;text-align:right;color:#2a1200">1743</div>
<div class="t" style="left:483px;top:745px;width:59px;line-height:20px;text-align:right;color:#2a1200">9</div>
<div class="t b" style="left:546px;top:745px;width:63px;line-height:20px;text-align:right;color:#000">46.247</div>
<div class="t" style="left:613px;top:745px;width:59px;line-height:20px;text-align:right;color:#2a1200">2.388</div>
<div class="t b" style="left:7px;top:766px;width:35px;line-height:20px;text-align:center">34</div>
<div class="t" style="left:43px;top:766px;width:102px;line-height:20px;text-align:right;color:#2a1200">Texas</div>
<div class="t" style="left:149px;top:766px;width:158px;line-height:20px;text-align:right;color:#2a1200">Madison County</div>
<div class="t" style="left:311px;top:766px;width:36px;line-height:20px;text-align:center;color:#2a1200">R</div>
<div class="t" style="left:348px;top:766px;width:68px;line-height:20px;text-align:right;color:#2a1200">14284</div>
<div class="t" style="left:420px;top:766px;width:59px;line-height:20px;text-align:right;color:#2a1200">645</div>
<div class="t" style="left:483px;top:766px;width:59px;line-height:20px;text-align:right;color:#2a1200">2</div>
<div class="t b" style="left:546px;top:766px;width:63px;line-height:20px;text-align:right;color:#000">45.155</div>
<div class="t" style="left:613px;top:766px;width:59px;line-height:20px;text-align:right;color:#2a1200">1.400</div>
<div class="t b" style="left:7px;top:786px;width:35px;line-height:20px;text-align:center">35</div>
<div class="t" style="left:43px;top:786px;width:102px;line-height:20px;text-align:right;color:#2a1200">Arkansas</div>
<div class="t" style="left:149px;top:786px;width:158px;line-height:20px;text-align:right;color:#2a1200">St. Francis County</div>
<div class="t" style="left:311px;top:786px;width:36px;line-height:20px;text-align:center;color:#2a1200">R</div>
<div class="t" style="left:348px;top:786px;width:68px;line-height:20px;text-align:right;color:#2a1200">24994</div>
<div class="t" style="left:420px;top:786px;width:59px;line-height:20px;text-align:right;color:#2a1200">1117</div>
<div class="t" style="left:483px;top:786px;width:59px;line-height:20px;text-align:right;color:#2a1200">3</div>
<div class="t b" style="left:546px;top:786px;width:63px;line-height:20px;text-align:right;color:#000">44.691</div>
<div class="t" style="left:613px;top:786px;width:59px;line-height:20px;text-align:right;color:#2a1200">1.200</div>
<div class="t b" style="left:7px;top:806px;width:35px;line-height:20px;text-align:center">36</div>
<div class="t" style="left:43px;top:806px;width:102px;line-height:20px;text-align:right;color:#00183c">Florida</div>
<div class="t" style="left:149px;top:806px;width:158px;line-height:20px;text-align:right;color:#00183c">Miami-Dade</div>
<div class="t" style="left:311px;top:806px;width:36px;line-height:20px;text-align:center;color:#00183c">D</div>
<div class="t" style="left:348px;top:806px;width:68px;line-height:20px;text-align:right;color:#00183c">2716940</div>
<div class="t" style="left:420px;top:806px;width:59px;line-height:20px;text-align:right;color:#00183c">121207</div>
<div class="t" style="left:483px;top:806px;width:59px;line-height:20px;text-align:right;color:#00183c">1647</div>
<div class="t b" style="left:546px;top:806px;width:63px;line-height:20px;text-align:right;color:#000">44.612</div>
<div class="t" style="left:613px;top:806px;width:59px;line-height:20px;text-align:right;color:#00183c">6.062</div>
<div class="t b" style="left:7px;top:826px;width:35px;line-height:20px;text-align:center">37</div>
<div class="t" style="left:43px;top:826px;width:102px;line-height:20px;text-align:right;color:#00183c">Mississippi</div>
<div class="t" style="left:149px;top:826px;width:158px;line-height:20px;text-align:right;color:#00183c">Claiborne County</div>
<div class="t" style="left:311px;top:826px;width:36px;line-height:20px;text-align:center;color:#00183c">D</div>
<div class="t" style="left:348px;top:826px;width:68px;line-height:20px;text-align:right;color:#00183c">8988</div>
<div class="t" style="left:420px;top:826px;width:59px;line-height:20px;text-align:right;color:#00183c">399</div>
<div class="t" style="left:483px;top:826px;width:59px;line-height:20px;text-align:right;color:#00183c">13</div>
<div class="t b" style="left:546px;top:826px;width:63px;line-height:20px;text-align:right;color:#000">44.393</div>
<div class="t" style="left:613px;top:826px;width:59px;line-height:20px;text-align:right;color:#00183c">14.464</div>
<div class="t b" style="left:7px;top:846px;width:35px;line-height:20px;text-align:center">38</div>
<div class="t" style="left:43px;top:846px;width:102px;line-height:20px;text-align:right;color:#2a1200">Texas</div>
<div class="t" style="left:149px;top:846px;width:158px;line-height:20px;text-align:right;color:#2a1200">Crockett County</div>
<div class="t" style="left:311px;top:846px;width:36px;line-height:20px;text-align:center;color:#2a1200">R</div>
<div class="t" style="left:348px;top:846px;width:68px;line-height:20px;text-align:right;color:#2a1200">3464</div>
<div class="t" style="left:420px;top:846px;width:59px;line-height:20px;text-align:right;color:#2a1200">153</div>
<div class="t" style="left:483px;top:846px;width:59px;line-height:20px;text-align:right;color:#2a1200">3</div>
<div class="t b" style="left:546px;top:846px;width:63px;line-height:20px;text-align:right;color:#000">44.169</div>
<div class="t" style="left:613px;top:846px;width:59px;line-height:20px;text-align:right;color:#2a1200">8.661</div>
<div class="t b" style="left:7px;top:866px;width:35px;line-height:20px;text-align:center">39</div>
<div class="t" style="left:43px;top:866px;width:102px;line-height:20px;text-align:right;color:#2a1200">Ohio</div>
<div class="t" style="left:149px;top:866px;width:158px;line-height:20px;text-align:right;color:#2a1200">Marion County</div>
<div class="t" style="left:311px;top:866px;width:36px;line-height:20px;text-align:center;color:#2a1200">R</div>
<div class="t" style="left:348px;top:866px;width:68px;line-height:20px;text-align:right;color:#2a1200">65093</div>
<div class="t" style="left:420px;top:866px;width:59px;line-height:20px;text-align:right;color:#2a1200">2867</div>
<div class="t" style="left:483px;top:866px;width:59px;line-height:20px;text-align:right;color:#2a1200">44</div>
<div class="t b" style="left:546px;top:866px;width:63px;line-height:20px;text-align:right;color:#000">44.045</div>
<div class="t" style="left:613px;top:866px;width:59px;line-height:20px;text-align:right;color:#2a1200">6.760</div>
<div class="t b" style="left:7px;top:887px;width:35px;line-height:20px;text-align:center">40</div>
<div class="t" style="left:43px;top:887px;width:102px;line-height:20px;text-align:right;color:#2a1200">Tennessee</div>
<div class="t" style="left:149px;top:887px;width:158px;line-height:20px;text-align:right;color:#2a1200">Bledsoe County</div>
<div class="t" style="left:311px;top:887px;width:36px;line-height:20px;text-align:center;color:#2a1200">R</div>
<div class="t" style="left:348px;top:887px;width:68px;line-height:20px;text-align:right;color:#2a1200">15064</div>
<div class="t" style="left:420px;top:887px;width:59px;line-height:20px;text-align:right;color:#2a1200">661</div>
<div class="t" style="left:483px;top:887px;width:59px;line-height:20px;text-align:right;color:#2a1200">1</div>
<div class="t b" style="left:546px;top:887px;width:63px;line-height:20px;text-align:right;color:#000">43.879</div>
<div class="t" style="left:613px;top:887px;width:59px;line-height:20px;text-align:right;color:#2a1200">0.664</div>
<div class="t b" style="left:7px;top:907px;width:35px;line-height:20px;text-align:center">41</div>
<div class="t" style="left:43px;top:907px;width:102px;line-height:20px;text-align:right;color:#00183c">Alabama</div>
<div class="t" style="left:149px;top:907px;width:158px;line-height:20px;text-align:right;color:#00183c">Bullock County</div>
<div class="t" style="left:311px;top:907px;width:36px;line-height:20px;text-align:center;color:#00183c">D</div>
<div class="t" style="left:348px;top:907px;width:68px;line-height:20px;text-align:right;color:#00183c">10101</div>
<div class="t" style="left:420px;top:907px;width:59px;line-height:20px;text-align:right;color:#00183c">436</div>
<div class="t" style="left:483px;top:907px;width:59px;line-height:20px;text-align:right;color:#00183c">11</div>
<div class="t b" style="left:546px;top:907px;width:63px;line-height:20px;text-align:right;color:#000">43.164</div>
<div class="t" style="left:613px;top:907px;width:59px;line-height:20px;text-align:right;color:#00183c">10.890</div>
<div class="t b" style="left:7px;top:928px;width:35px;line-height:20px;text-align:center">42</div>
<div class="t" style="left:43px;top:928px;width:102px;line-height:20px;text-align:right;color:#2a1200">Arkansas</div>
<div class="t" style="left:149px;top:928px;width:158px;line-height:20px;text-align:right;color:#2a1200">Hot Spring County</div>
<div class="t" style="left:311px;top:928px;width:36px;line-height:20px;text-align:center;color:#2a1200">R</div>
<div class="t" style="left:348px;top:928px;width:68px;line-height:20px;text-align:right;color:#2a1200">33771</div>
<div class="t" style="left:420px;top:928px;width:59px;line-height:20px;text-align:right;color:#2a1200">1451</div>
<div class="t" style="left:483px;top:928px;width:59px;line-height:20px;text-align:right;color:#2a1200">8</div>
<div class="t b" style="left:546px;top:928px;width:63px;line-height:20px;text-align:right;color:#000">42.966</div>
<div class="t" style="left:613px;top:928px;width:59px;line-height:20px;text-align:right;color:#2a1200">2.369</div>
<div class="t b" style="left:7px;top:948px;width:35px;line-height:20px;text-align:center">43</div>
<div class="t" style="left:43px;top:948px;width:102px;line-height:20px;text-align:right;color:#00183c">New York</div>
<div class="t" style="left:149px;top:948px;width:158px;line-height:20px;text-align:right;color:#00183c">Rockland County</div>
<div class="t" style="left:311px;top:948px;width:36px;line-height:20px;text-align:center;color:#00183c">D</div>
<div class="t" style="left:348px;top:948px;width:68px;line-height:20px;text-align:right;color:#00183c">325789</div>
<div class="t" style="left:420px;top:948px;width:59px;line-height:20px;text-align:right;color:#00183c">13880</div>
<div class="t" style="left:483px;top:948px;width:59px;line-height:20px;text-align:right;color:#00183c">674</div>
<div class="t b" style="left:546px;top:948px;width:63px;line-height:20px;text-align:right;color:#000">42.604</div>
<div class="t" style="left:613px;top:948px;width:59px;line-height:20px;text-align:right;color:#00183c">20.688</div>
<div class="t b" style="left:7px;top:969px;width:35px;line-height:20px;text-align:center">44</div>
<div class="t" style="left:43px;top:969px;width:102px;line-height:20px;text-align:right;color:#00183c">Arizona</div>
<div class="t" style="left:149px;top:969px;width:158px;line-height:20px;text-align:right;color:#00183c">Apache County</div>
<div class="t" style="left:311px;top:969px;width:36px;line-height:20px;text-align:center;color:#00183c">D</div>
<div class="t" style="left:348px;top:969px;width:68px;line-height:20px;text-align:right;color:#00183c">71887</div>
<div class="t" style="left:420px;top:969px;width:59px;line-height:20px;text-align:right;color:#00183c">3054</div>
<div class="t" style="left:483px;top:969px;width:59px;line-height:20px;text-align:right;color:#00183c">135</div>
<div class="t b" style="left:546px;top:969px;width:63px;line-height:20px;text-align:right;color:#000">42.483</div>
<div class="t" style="left:613px;top:969px;width:59px;line-height:20px;text-align:right;color:#00183c">18.779</div>
<div class="t b" style="left:7px;top:989px;width:35px;line-height:20px;text-align:center">45</div>
<div class="t" style="left:43px;top:989px;width:102px;line-height:20px;text-align:right;color:#2a1200">Iowa</div>
<div class="t" style="left:149px;top:989px;width:158px;line-height:20px;text-align:right;color:#2a1200">Crawford County</div>
<div class="t" style="left:311px;top:989px;width:36px;line-height:20px;text-align:center;color:#2a1200">R</div>
<div class="t" style="left:348px;top:989px;width:68px;line-height:20px;text-align:right;color:#2a1200">16820</div>
<div class="t" style="left:420px;top:989px;width:59px;line-height:20px;text-align:right;color:#2a1200">710</div>
<div class="t" style="left:483px;top:989px;width:59px;line-height:20px;text-align:right;color:#2a1200">3</div>
<div class="t b" style="left:546px;top:989px;width:63px;line-height:20px;text-align:right;color:#000">42.212</div>
<div class="t" style="left:613px;top:989px;width:59px;line-height:20px;text-align:right;color:#2a1200">1.784</div>
<div class="t b" style="left:7px;top:1010px;width:35px;line-height:20px;text-align:center">46</div>
<div class="t" style="left:43px;top:1010px;width:102px;line-height:20px;text-align:right;color:#00183c">Mississippi</div>
<div class="t" style="left:149px;top:1010px;width:158px;line-height:20px;text-align:right;color:#00183c">Sharkey County</div>
<div class="t" style="left:311px;top:1010px;width:36px;line-height:20px;text-align:center;color:#00183c">D</div>
<div class="t" style="left:348px;top:1010px;width:68px;line-height:20px;text-align:right;color:#00183c">4321</div>
<div class="t" style="left:420px;top:1010px;width:59px;line-height:20px;text-align:right;color:#00183c">180</div>
<div class="t" style="left:483px;top:1010px;width:59px;line-height:20px;text-align:right;color:#00183c">1</div>
<div class="t b" style="left:546px;top:1010px;width:63px;line-height:20px;text-align:right;color:#000">41.657</div>
<div class="t" style="left:613px;top:1010px;width:59px;line-height:20px;text-align:right;color:#00183c">2.314</div>
<div class="t b" style="left:7px;top:1030px;width:35px;line-height:20px;text-align:center">47</div>
<div class="t" style="left:43px;top:1030px;width:102px;line-height:20px;text-align:right;color:#2a1200">Mississippi</div>
<div class="t" style="left:149px;top:1030px;width:158px;line-height:20px;text-align:right;color:#2a1200">Neshoba County</div>
<div class="t" style="left:311px;top:1030px;width:36px;line-height:20px;text-align:center;color:#2a1200">R</div>
<div class="t" style="left:348px;top:1030px;width:68px;line-height:20px;text-align:right;color:#2a1200">29118</div>
<div class="t" style="left:420px;top:1030px;width:59px;line-height:20px;text-align:right;color:#2a1200">1190</div>
<div class="t" style="left:483px;top:1030px;width:59px;line-height:20px;text-align:right;color:#2a1200">87</div>
<div class="t b" style="left:546px;top:1030px;width:63px;line-height:20px;text-align:right;color:#000">40.868</div>
<div class="t" style="left:613px;top:1030px;width:59px;line-height:20px;text-align:right;color:#2a1200">29.878</div>
<div class="t b" style="left:7px;top:1050px;width:35px;line-height:20px;text-align:center">48</div>
<div class="t" style="left:43px;top:1050px;width:102px;line-height:20px;text-align:right;color:#2a1200">Nebraska</div>
<div class="t" style="left:149px;top:1050px;width:158px;line-height:20px;text-align:right;color:#2a1200">Saline</div>
<div class="t" style="left:311px;top:1050px;width:36px;line-height:20px;text-align:center;color:#2a1200">R</div>
<div class="t" style="left:348px;top:1050px;width:68px;line-height:20px;text-align:right;color:#2a1200">14224</div>
<div class="t" style="left:420px;top:1050px;width:59px;line-height:20px;text-align:right;color:#2a1200">581</div>
<div class="t" style="left:483px;top:1050px;width:59px;line-height:20px;text-align:right;color:#2a1200">2</div>
<div class="t b" style="left:546px;top:1050px;width:63px;line-height:20px;text-align:right;color:#000">40.846</div>
<div class="t" style="left:613px;top:1050px;width:59px;line-height:20px;text-align:right;color:#2a1200">1.406</div>
<div class="t b" style="left:7px;top:1071px;width:35px;line-height:20px;text-align:center">49</div>
<div class="t" style="left:43px;top:1071px;width:102px;line-height:20px;text-align:right;color:#2a1200">Utah</div>
<div class="t" style="left:149px;top:1071px;width:158px;line-height:20px;text-align:right;color:#2a1200">San Juan County</div>
<div class="t" style="left:311px;top:1071px;width:36px;line-height:20px;text-align:center;color:#2a1200">R</div>
<div class="t" style="left:348px;top:1071px;width:68px;line-height:20px;text-align:right;color:#2a1200">15,281</div>
<div class="t" style="left:420px;top:1071px;width:59px;line-height:20px;text-align:right;color:#2a1200">622</div>
<div class="t" style="left:483px;top:1071px;width:59px;line-height:20px;text-align:right;color:#2a1200">24</div>
<div class="t b" style="left:546px;top:1071px;width:63px;line-height:20px;text-align:right;color:#000">40.704</div>
<div class="t" style="left:613px;top:1071px;width:59px;line-height:20px;text-align:right;color:#2a1200">15.706</div>
<div class="t b" style="left:7px;top:1091px;width:35px;line-height:20px;text-align:center">50</div>
<div class="t" style="left:43px;top:1091px;width:102px;line-height:20px;text-align:right;color:#2a1200">Missouri</div>
<div class="t" style="left:149px;top:1091px;width:158px;line-height:20px;text-align:right;color:#2a1200">McDonald County</div>
<div class="t" style="left:311px;top:1091px;width:36px;line-height:20px;text-align:center;color:#2a1200">R</div>
<div class="t" style="left:348px;top:1091px;width:68px;line-height:20px;text-align:right;color:#2a1200">22837</div>
<div class="t" style="left:420px;top:1091px;width:59px;line-height:20px;text-align:right;color:#2a1200">926</div>
<div class="t" style="left:483px;top:1091px;width:59px;line-height:20px;text-align:right;color:#2a1200">7</div>
<div class="t b" style="left:546px;top:1091px;width:63px;line-height:20px;text-align:right;color:#000">40.548</div>
<div class="t" style="left:613px;top:1091px;width:59px;line-height:20px;text-align:right;color:#2a1200">3.065</div>
</body></html>
